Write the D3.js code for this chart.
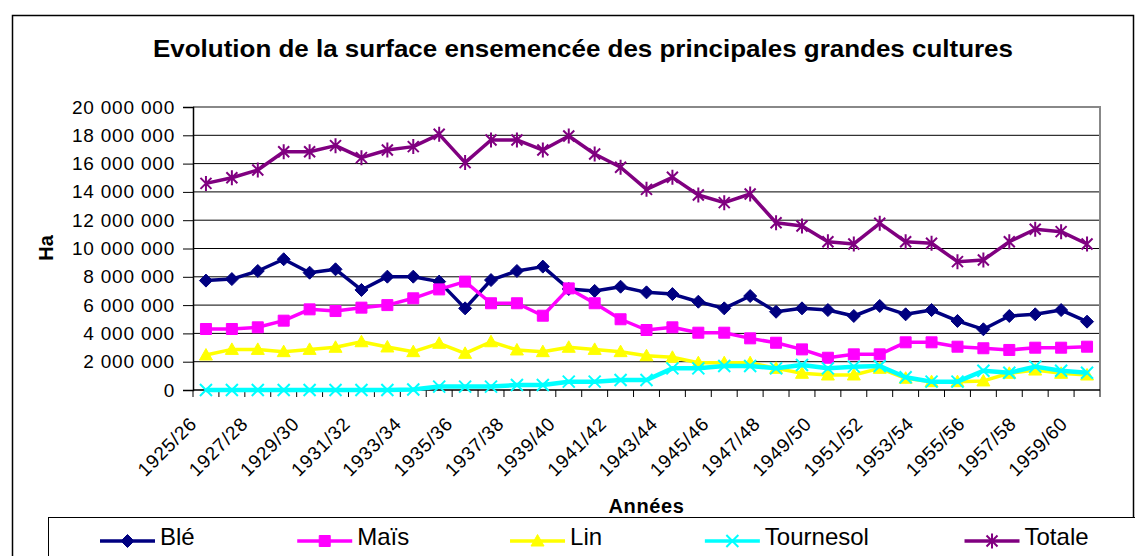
<!DOCTYPE html>
<html>
<head>
<meta charset="utf-8">
<script src="https://cdn.jsdelivr.net/npm/d3@7"></script>
<style>
  body { margin: 0; background: white; }
  svg { display: block; font-family: "Liberation Sans", Arial, sans-serif; }
</style>
</head>
<body>
<svg id="chart" width="1135" height="556"></svg>
<script>
// campagnes agricoles
const years = ["1925/26", "1926/27", "1927/28", "1928/29", "1929/30", "1930/31", "1931/32",
  "1932/33", "1933/34", "1934/35", "1935/36", "1936/37", "1937/38", "1938/39", "1939/40",
  "1940/41", "1941/42", "1942/43", "1943/44", "1944/45", "1945/46", "1946/47", "1947/48",
  "1948/49", "1949/50", "1950/51", "1951/52", "1952/53", "1953/54", "1954/55", "1955/56",
  "1956/57", "1957/58", "1958/59", "1959/60"];

// surfaces en hectares
const ble = [7730000, 7840000, 8410000, 9240000, 8290000, 8530000, 7070000, 8010000, 8010000,
  7660000, 5770000, 7770000, 8410000, 8720000, 7140000, 7000000, 7300000, 6900000, 6780000,
  6240000, 5770000, 6640000, 5530000, 5770000, 5650000, 5230000, 5940000, 5350000, 5650000,
  4880000, 4290000, 5230000, 5350000, 5650000, 4830000];
const mais = [4310000, 4310000, 4430000, 4900000, 5700000, 5580000, 5820000, 6000000, 6480000,
  7110000, 7660000, 6130000, 6130000, 5250000, 7180000, 6130000, 5000000, 4240000, 4430000,
  4050000, 4050000, 3650000, 3340000, 2870000, 2280000, 2520000, 2520000, 3370000, 3370000,
  3060000, 2950000, 2830000, 2990000, 2990000, 3060000];
const lin = [2470000, 2870000, 2870000, 2710000, 2870000, 3020000, 3410000, 3040000, 2710000,
  3300000, 2590000, 3410000, 2830000, 2710000, 3020000, 2870000, 2710000, 2420000, 2310000,
  1930000, 1930000, 1930000, 1530000, 1180000, 1060000, 1060000, 1530000, 830000, 590000,
  590000, 640000, 1180000, 1410000, 1180000, 1060000];
const tournesol = [0, 0, 0, 0, 0, 0, 0, 0, 30000, 240000, 240000, 240000, 350000, 350000,
  590000, 590000, 710000, 710000, 1530000, 1530000, 1700000, 1700000, 1530000, 1770000,
  1530000, 1650000, 1700000, 900000, 590000, 590000, 1360000, 1220000, 1650000, 1360000, 1220000];
const totale = [14600000, 15000000, 15550000, 16840000, 16840000, 17270000, 16420000, 16960000,
  17200000, 18070000, 16070000, 17670000, 17670000, 16960000, 17950000, 16680000, 15740000,
  14180000, 15030000, 13780000, 13240000, 13850000, 11820000, 11590000, 10480000, 10320000,
  11780000, 10480000, 10370000, 9070000, 9190000, 10480000, 11360000, 11190000, 10320000];

const yTicks = [0, 2000000, 4000000, 6000000, 8000000, 10000000, 12000000, 14000000,
  16000000, 18000000, 20000000];

const series = [
  { name: "Blé", values: ble, color: "#000080", marker: "M0,-6.5L6.5,0L0,6.5L-6.5,0Z", fill: true },
  { name: "Maïs", values: mais, color: "#FF00FF", marker: "M-5.5,-5.5H5.5V5.5H-5.5Z", fill: true },
  { name: "Lin", values: lin, color: "#FFFF00", marker: "M0,-6.5L6.5,5L-6.5,5Z", fill: true },
  { name: "Tournesol", values: tournesol, color: "#00FFFF", marker: "M-6,-6L6,6M-6,6L6,-6", fill: false },
  { name: "Totale", values: totale, color: "#800080", marker: "M-5.5,-5.5L5.5,5.5M-5.5,5.5L5.5,-5.5M0,-7.5V7.5", fill: false }
];

const svg = d3.select("#chart");
const W = +svg.attr("width"), H = +svg.attr("height");
const margin = { top: 107, right: 35, bottom: 166, left: 193 };
const iw = W - margin.left - margin.right,
      ih = H - margin.top - margin.bottom;

svg.append("rect").attr("width", W).attr("height", H).attr("fill", "white");

// cadre du graphique
svg.append("rect")
  .attr("x", 12.5).attr("y", 15.5)
  .attr("width", 1121).attr("height", 600)
  .attr("fill", "none").attr("stroke", "#000").attr("stroke-width", 1.5);

svg.append("text")
  .attr("x", 583).attr("y", 57)
  .attr("text-anchor", "middle")
  .attr("font-size", 24).attr("font-weight", "bold")
  .attr("textLength", 860).attr("lengthAdjust", "spacingAndGlyphs")
  .text("Evolution de la surface ensemencée des principales grandes cultures");

const g = svg.append("g").attr("transform", `translate(${margin.left},${margin.top})`);

const x = d3.scaleBand().domain(years).range([0, iw]).padding(0);
const y = d3.scaleLinear().domain([0, 20000000]).range([ih, 0]);
const cx = d => x(d) + x.bandwidth() / 2;

const fr = d3.formatLocale({ decimal: ",", thousands: " ", grouping: [3], currency: ["", ""] });
const fmt = fr.format(",d");

// grille
g.append("g").selectAll("line")
  .data(yTicks.slice(1))
  .join("line")
    .attr("x1", 0).attr("x2", iw)
    .attr("y1", d => y(d)).attr("y2", d => y(d))
    .attr("stroke", "#000").attr("stroke-width", 1);

// bords haut et droit de la zone de tracé
g.append("path")
  .attr("d", `M0,${y(20000000)}H${iw}V${ih}`)
  .attr("fill", "none").attr("stroke", "#888").attr("stroke-width", 2);

// axe Y
const yAxis = g.append("g")
  .call(d3.axisLeft(y).tickValues(yTicks).tickFormat(fmt).tickSize(10).tickPadding(8));
yAxis.select(".domain").attr("stroke", "#000").attr("stroke-width", 1.5);
yAxis.selectAll(".tick line").attr("stroke", "#000");
yAxis.selectAll(".tick text")
  .attr("font-size", 19).attr("letter-spacing", "0.8px")
  .attr("fill", "#000").attr("font-family", "Liberation Sans, Arial, sans-serif");

// axe X
g.append("line")
  .attr("x1", 0).attr("x2", iw).attr("y1", ih).attr("y2", ih)
  .attr("stroke", "#000").attr("stroke-width", 1.5);
g.append("g").selectAll("line")
  .data(years.map(d => x(d)).concat([x.range()[1]]))
  .join("line")
    .attr("x1", d => d).attr("x2", d => d)
    .attr("y1", ih).attr("y2", ih + 7)
    .attr("stroke", "#000");

g.append("g").selectAll("text")
  .data(years.filter((d, i) => i % 2 === 0))
  .join("text")
    .attr("transform", (d, i) => `translate(${cx(d) - 8 - 0.6 * i},${ih + 35}) rotate(-45)`)
    .attr("text-anchor", "end")
    .attr("font-size", 19).attr("letter-spacing", "0.8px")
    .text(d => d);

// titres des axes
svg.append("text")
  .attr("transform", "translate(53,248) rotate(-90)")
  .attr("text-anchor", "middle")
  .attr("font-size", 20).attr("font-weight", "bold")
  .text("Ha");

svg.append("text")
  .attr("x", margin.left + iw / 2).attr("y", 513)
  .attr("text-anchor", "middle")
  .attr("font-size", 20).attr("font-weight", "bold").attr("letter-spacing", "0.6px")
  .text("Années");

// courbes
const line = d3.line().x((d, i) => cx(years[i])).y(d => y(d));

series.forEach(s => {
  const sg = g.append("g");
  sg.append("path")
    .attr("d", line(s.values))
    .attr("fill", "none")
    .attr("stroke", s.color)
    .attr("stroke-width", s.name === "Tournesol" ? 4.5 : 3.5)
    .attr("stroke-linejoin", "round");
  sg.selectAll("path.m")
    .data(s.values)
    .join("path")
      .attr("class", "m")
      .attr("transform", (d, i) => `translate(${cx(years[i])},${y(d)})`)
      .attr("d", s.marker)
      .attr("fill", s.fill ? s.color : "none")
      .attr("stroke", s.color)
      .attr("stroke-width", s.fill ? 1 : 2);
});

// légende
svg.append("rect")
  .attr("x", 48.5).attr("y", 517.5)
  .attr("width", 1100).attr("height", 100)
  .attr("fill", "white").attr("stroke", "#000").attr("stroke-width", 1);

let lx = 100;
series.forEach(s => {
  const lg = svg.append("g").attr("transform", `translate(${lx},541)`);
  lg.append("line")
    .attr("x1", 0).attr("x2", 55)
    .attr("stroke", s.color).attr("stroke-width", 3.5);
  lg.append("path")
    .attr("transform", "translate(27.5,0)")
    .attr("d", s.marker)
    .attr("fill", s.fill ? s.color : "none")
    .attr("stroke", s.color)
    .attr("stroke-width", s.fill ? 1 : 2);
  const t = lg.append("text")
    .attr("x", 60).attr("y", 4)
    .attr("font-size", 24)
    .text(s.name);
  lx += 60 + 0.9 * t.node().getComputedTextLength() + 106;
});
</script>
</body>
</html>
